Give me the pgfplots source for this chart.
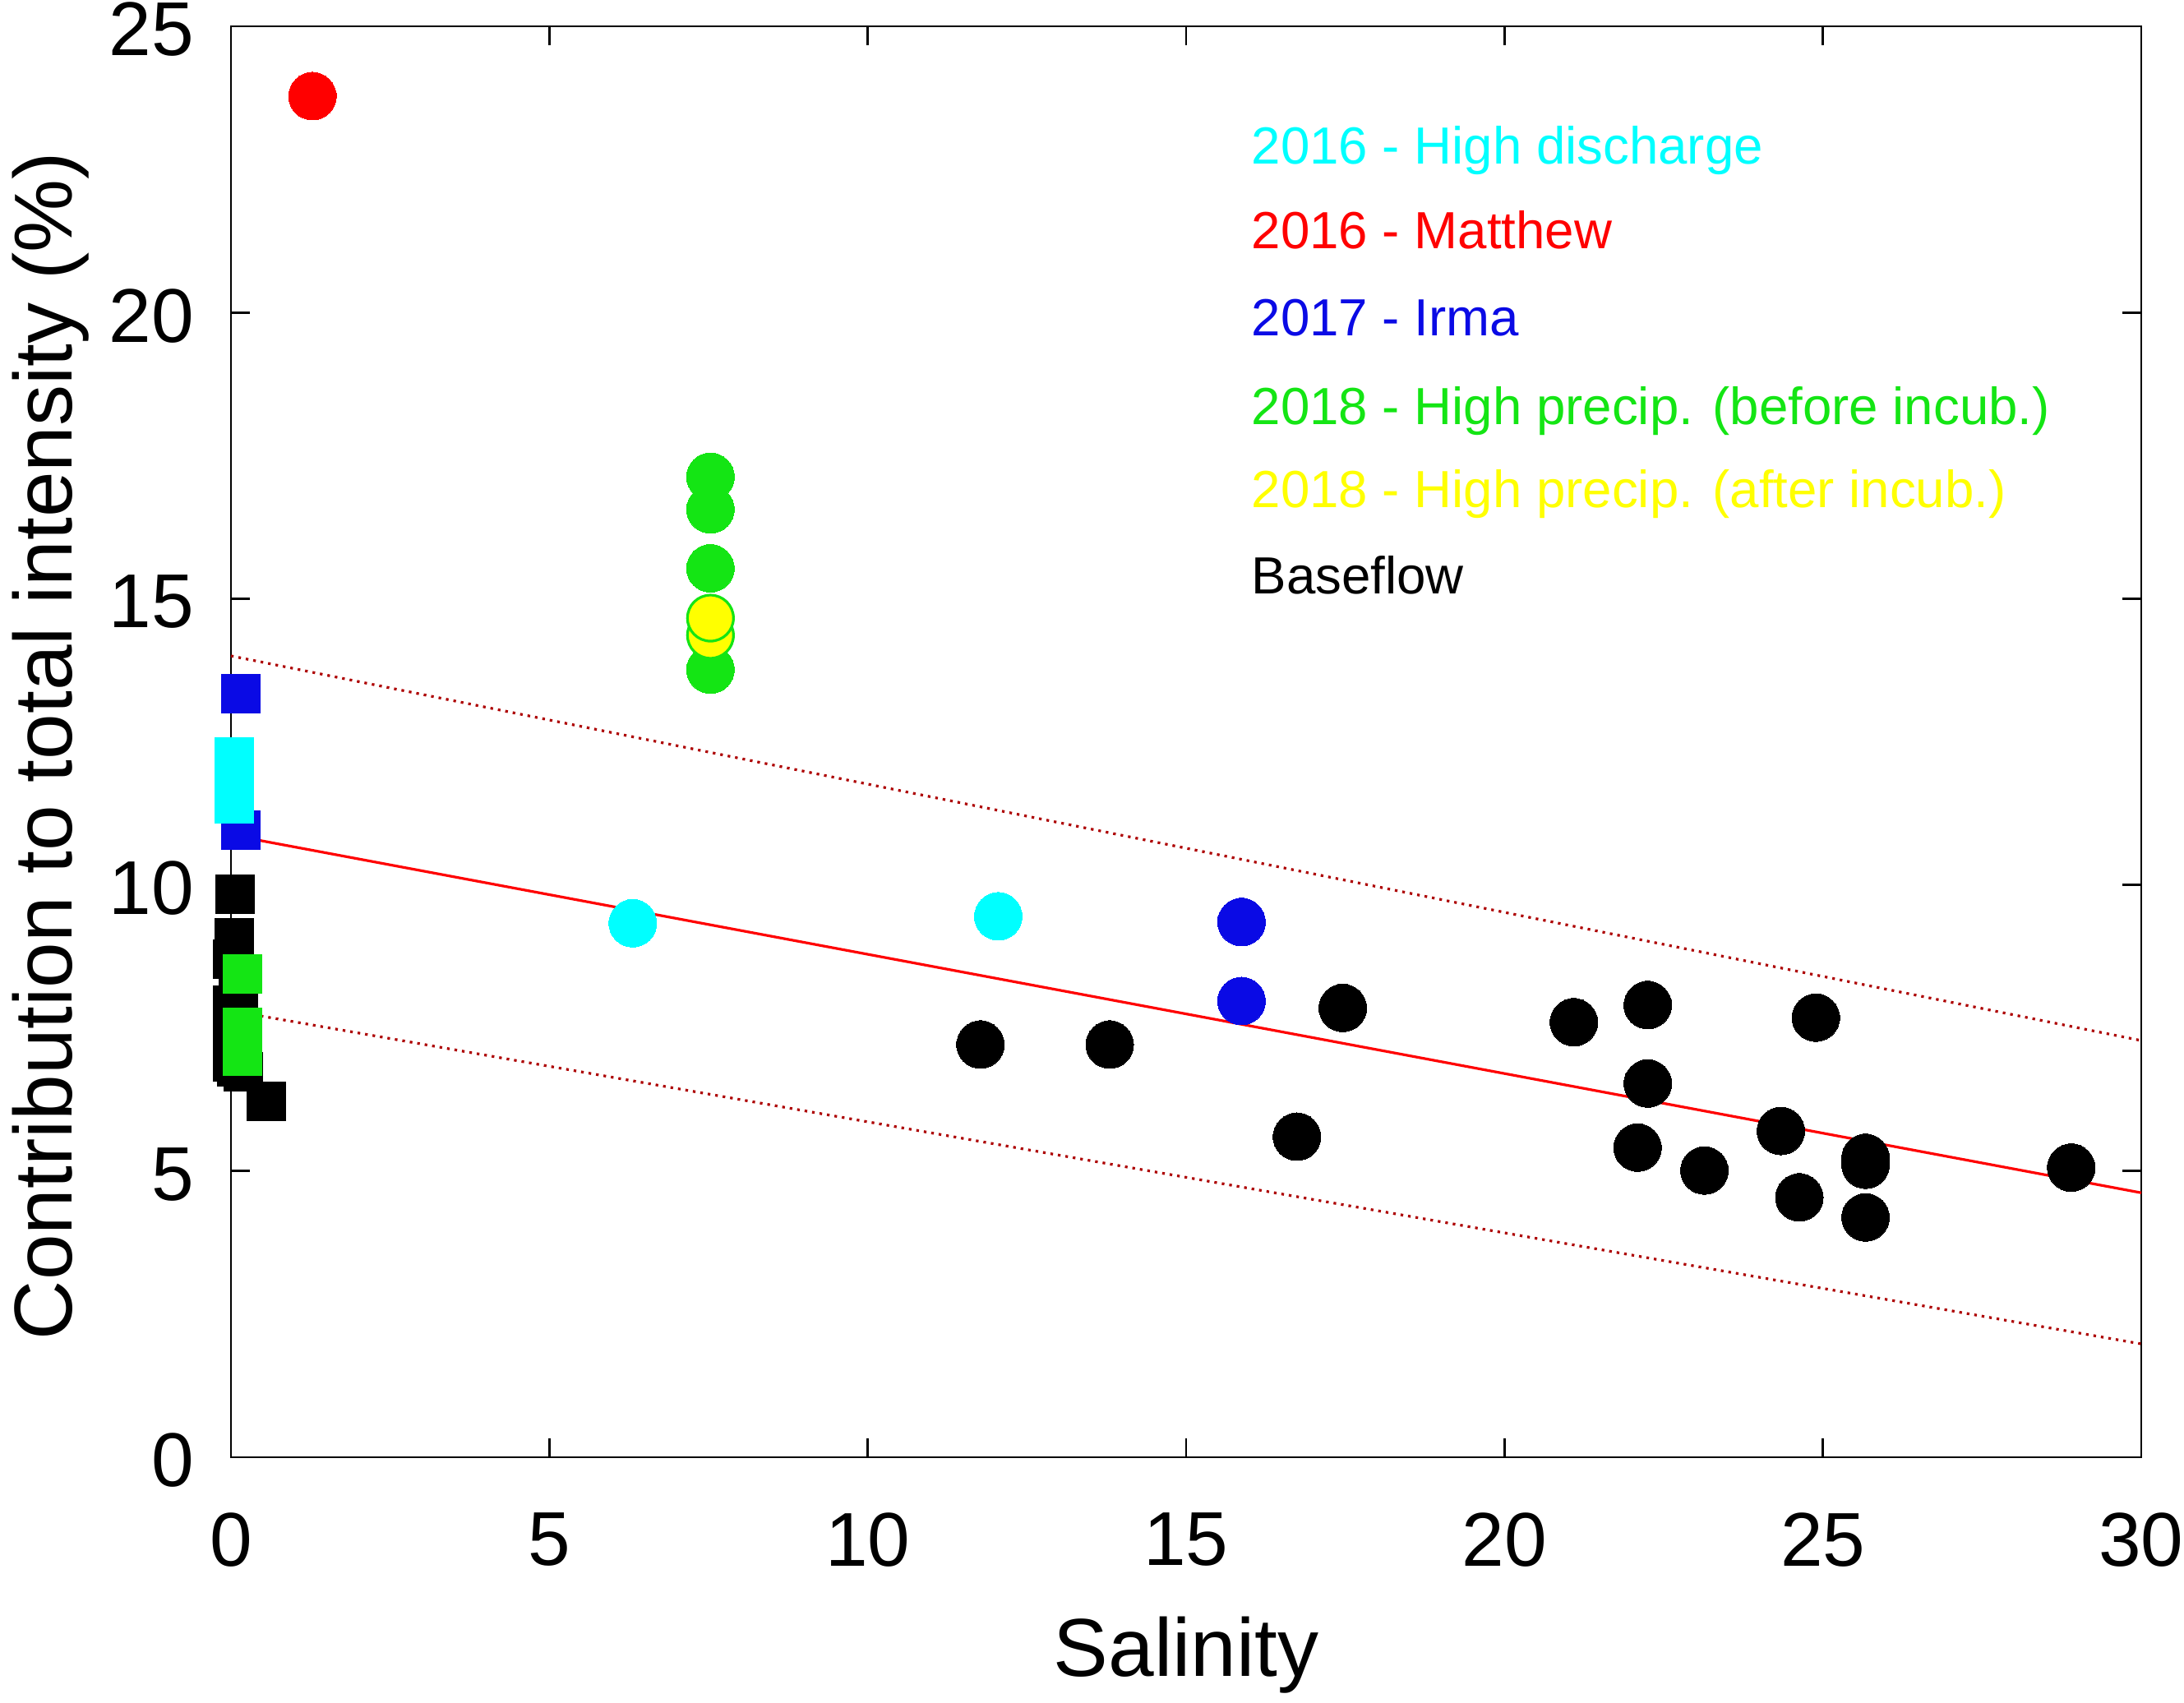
\documentclass[border=0pt]{standalone}
\usepackage{fontspec}
\setmainfont{Liberation Sans}
\usepackage{pgfplots}
\pgfplotsset{compat=1.18}
\definecolor{mcyan}{rgb}{0,1,1}
\definecolor{mred}{rgb}{1,0,0}
\definecolor{mblue}{rgb}{0.04,0.04,0.9}
\definecolor{mgreen}{rgb}{0.08,0.9,0.08}
\definecolor{myellow}{rgb}{1,1,0}
\definecolor{dred}{rgb}{0.68,0,0}
\begin{document}
\begin{tikzpicture}
\useasboundingbox (-70.25pt,-74.75pt) rectangle (594pt,443.25pt);
\begin{axis}[
  at={(0pt,0pt)}, anchor=south west,
  scale only axis, width=581pt, height=435.25pt,
  xmin=0, xmax=30, ymin=0, ymax=25,
  xtick={0,5,10,15,20,25,30}, ytick={0,5,10,15,20,25},
  tick align=inside, major tick length=5.75pt,
  axis line style={line width=0.7pt},
  every tick/.style={line width=0.7pt, black},
  /pgf/number format/assume math mode=true,
  ticklabel style={font=\fontsize{23.2}{28}\selectfont},
  xticklabel style={anchor=north, inner sep=0pt, yshift=-16.75pt},
  yticklabel style={anchor=east, inner sep=0pt, xshift=-11pt, yshift=-1pt},
  xlabel={Salinity},
  ylabel={Contribution to total intensity (\%)},
  label style={font=\fontsize{25}{30}\selectfont},
  xlabel style={at={(axis description cs:0.5,0)}, anchor=base, inner sep=0pt, yshift=-66.75pt},
  ylabel style={at={(axis description cs:0,0.5)}, anchor=base, inner sep=0pt, yshift=48.25pt, xshift=-1.25pt},
  clip=false,
]
% Squares (river / low salinity)
\addplot[only marks, mark=square*, mark size=5.875pt, mark options={draw=black, fill=black, line width=0pt}] coordinates {
 (0.07,9.84) (0.05,9.08) (0.11,8.2) (0.03,8.7) (0.03,7.9) (0.03,7.3) (0.03,6.9) (0.09,6.82) (0.2,6.74) (0.55,6.22)
};
\addplot[only marks, mark=square*, mark size=5.875pt, mark options={draw=mblue, fill=mblue, line width=0pt}] coordinates {
 (0.15,13.34) (0.15,10.96)
};
\addplot[only marks, mark=square*, mark size=5.875pt, mark options={draw=mcyan, fill=mcyan, line width=0pt}] coordinates {
 (0.05,12.23) (0.05,11.82) (0.05,11.41)
};
\addplot[only marks, mark=square*, mark size=5.875pt, mark options={draw=mgreen, fill=mgreen, line width=0pt}] coordinates {
 (0.18,8.45) (0.18,7.51) (0.18,7.01)
};
% Circles
\addplot[only marks, mark=*, mark size=7.25pt, mark options={draw=black, fill=black, line width=0pt}] coordinates {
 (11.77,7.21) (13.80,7.21) (16.74,5.60) (17.46,7.85) (21.09,7.60) (22.25,7.90) (22.25,6.53)
 (22.09,5.41) (23.14,5.01) (24.34,5.70) (24.89,7.68) (24.63,4.54) (25.67,5.23) (25.67,5.11)
 (25.67,4.19) (28.9,5.06)
};
\addplot[only marks, mark=*, mark size=7.25pt, mark options={draw=mcyan, fill=mcyan, line width=0pt}] coordinates {
 (6.31,9.33) (12.05,9.45)
};
\addplot[only marks, mark=*, mark size=7.25pt, mark options={draw=mblue, fill=mblue, line width=0pt}] coordinates {
 (15.87,9.35) (15.87,7.97)
};
\addplot[only marks, mark=*, mark size=7.25pt, mark options={draw=mgreen, fill=mgreen, line width=0pt}] coordinates {
 (7.53,17.13) (7.53,16.56) (7.53,15.53) (7.53,13.76)
};
\addplot[only marks, mark=*, mark size=7.0pt, mark options={draw=mgreen, fill=myellow, line width=0.8pt}] coordinates {
 (7.53,14.36) (7.53,14.66)
};
\addplot[only marks, mark=*, mark size=7.25pt, mark options={draw=mred, fill=mred, line width=0pt}] coordinates {
 (1.28,23.78)
};
% Regression and prediction bounds
\addplot[mred, line width=0.8pt] coordinates {(0,10.87) (30,4.62)};
\addplot[dred, line width=0.8pt, dash pattern=on 0.8pt off 1.5pt] coordinates {(0,14.0) (30,7.28)};
\addplot[dred, line width=0.8pt, dash pattern=on 0.8pt off 1.5pt] coordinates {(0,7.8) (30,1.98)};
% Legend texts
\begin{scope}[every node/.style={anchor=base west, inner sep=0pt, font=\fontsize{15.9}{19}\selectfont}]
\node[text=mcyan] at (axis cs:16.02,22.59) {2016 - High discharge};
\node[text=mred] at (axis cs:16.02,21.12) {2016 - Matthew};
\node[text=mblue] at (axis cs:16.02,19.60) {2017 - Irma};
\node[text=mgreen] at (axis cs:16.02,18.04) {2018 - High precip. (before incub.)};
\node[text=myellow] at (axis cs:16.02,16.59) {2018 - High precip. (after incub.)};
\node[text=black] at (axis cs:16.02,15.09) {Baseflow};
\end{scope}
\end{axis}
\end{tikzpicture}
\end{document}
